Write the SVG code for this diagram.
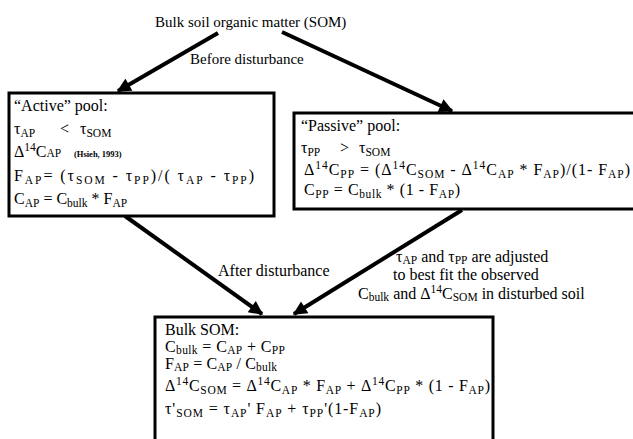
<svg xmlns="http://www.w3.org/2000/svg" width="633" height="439" viewBox="0 0 633 439">
<style>
.t{font-family:"Liberation Serif","Times New Roman",serif;font-size:15px;fill:#000}
.m{font-family:"Liberation Serif","Times New Roman",serif;font-size:16px;fill:#000}
.s{font-size:11.5px}
.b{font-family:"Liberation Serif","Times New Roman",serif;font-size:8.5px;font-weight:bold}
.box{fill:#fff;stroke:#000;stroke-width:3}
.ln{stroke:#000;stroke-width:4;fill:none}
</style>
<defs>
<marker id="ah" viewBox="0 0 10 10" refX="9" refY="5" markerWidth="4" markerHeight="3.5" orient="auto" markerUnits="strokeWidth">
<path d="M0,0 L10,5 L0,10 z" fill="#000"/>
</marker>
</defs>
<rect width="633" height="439" fill="#fff"/>

<g id="connectors">
<line class="ln" x1="218" y1="33" x2="118" y2="91" marker-end="url(#ah)"/>
<line class="ln" x1="282" y1="32" x2="452" y2="111" marker-end="url(#ah)"/>
<line class="ln" x1="125" y1="216" x2="262" y2="314" marker-end="url(#ah)"/>
<line class="ln" x1="462" y1="210" x2="294" y2="314" marker-end="url(#ah)"/>
<text class="t" x="190" y="64">Before disturbance</text>
<text class="m" x="218" y="276">After disturbance</text>
<text class="m" x="396" y="262">τ<tspan class="s" dy="2">AP</tspan><tspan dy="-2"> and τ</tspan><tspan class="s" dy="2">PP</tspan><tspan dy="-2"> are adjusted</tspan></text>
<text class="m" x="393" y="280">to best fit the observed</text>
<text class="m" x="358" y="299">C<tspan class="s" dy="2">bulk</tspan><tspan dy="-2"> and Δ</tspan><tspan class="s" dy="-6">14</tspan><tspan dy="6">C</tspan><tspan class="s" dy="2">SOM</tspan><tspan dy="-2"> in disturbed soil</tspan></text>
</g>

<g id="title">
<text class="t" x="155" y="27">Bulk soil organic matter (SOM)</text>
</g>

<g id="active-pool">
<rect class="box" x="9" y="93" width="265" height="123"/>
<text class="m" x="14" y="111">“Active” pool:</text>
<text class="m" x="14" y="134">τ<tspan class="s" dy="3">AP</tspan><tspan dy="-3" x="60">&lt;</tspan><tspan x="80">τ</tspan><tspan class="s" dy="3">SOM</tspan></text>
<text class="m" x="14" y="157">Δ<tspan class="s" dy="-6">14</tspan><tspan dy="6">C</tspan><tspan class="s">AP</tspan><tspan class="b" x="74">(Hsieh, 1993)</tspan></text>
<text class="m" x="14" y="181" textLength="240" lengthAdjust="spacing">F<tspan class="s" dy="3">AP</tspan><tspan dy="-3">= (τ</tspan><tspan class="s" dy="3">SOM</tspan><tspan dy="-3"> - τ</tspan><tspan class="s" dy="3">PP</tspan><tspan dy="-3">)/( τ</tspan><tspan class="s" dy="3">AP</tspan><tspan dy="-3"> - τ</tspan><tspan class="s" dy="3">PP</tspan><tspan dy="-3">)</tspan></text>
<text class="m" x="14" y="204">C<tspan class="s" dy="3">AP</tspan><tspan dy="-3"> = C</tspan><tspan class="s" dy="3">bulk</tspan><tspan dy="-3"> * F</tspan><tspan class="s" dy="3">AP</tspan></text>
</g>

<g id="passive-pool">
<rect class="box" x="294" y="113" width="346" height="96"/>
<text class="m" x="301" y="131">“Passive” pool:</text>
<text class="m" x="301" y="153">τ<tspan class="s" dy="3">PP</tspan><tspan dy="-3" x="340">&gt;</tspan><tspan x="359">τ</tspan><tspan class="s" dy="3">SOM</tspan></text>
<text class="m" x="304" y="175" textLength="326" lengthAdjust="spacing">Δ<tspan class="s" dy="-6">14</tspan><tspan dy="6">C</tspan><tspan class="s" dy="3">PP</tspan><tspan dy="-3"> = (Δ</tspan><tspan class="s" dy="-6">14</tspan><tspan dy="6">C</tspan><tspan class="s" dy="3">SOM</tspan><tspan dy="-3">  - Δ</tspan><tspan class="s" dy="-6">14</tspan><tspan dy="6">C</tspan><tspan class="s" dy="3">AP</tspan><tspan dy="-3"> * F</tspan><tspan class="s" dy="3">AP</tspan><tspan dy="-3">)/(1- F</tspan><tspan class="s" dy="3">AP</tspan><tspan dy="-3">)</tspan></text>
<text class="m" x="304" y="195" textLength="156" lengthAdjust="spacing">C<tspan class="s" dy="3">PP</tspan><tspan dy="-3"> = C</tspan><tspan class="s" dy="3">bulk</tspan><tspan dy="-3"> * (1 - F</tspan><tspan class="s" dy="3">AP</tspan><tspan dy="-3">)</tspan></text>
</g>

<g id="bulk-som">
<rect class="box" x="155" y="317" width="338" height="130"/>
<text class="m" x="165" y="335">Bulk SOM:</text>
<text class="m" x="165" y="352" textLength="120" lengthAdjust="spacing">C<tspan class="s" dy="2">bulk</tspan><tspan dy="-2"> = C</tspan><tspan class="s" dy="2">AP</tspan><tspan dy="-2"> + C</tspan><tspan class="s" dy="2">PP</tspan></text>
<text class="m" x="165" y="369" textLength="112" lengthAdjust="spacing">F<tspan class="s" dy="2">AP</tspan><tspan dy="-2"> = C</tspan><tspan class="s" dy="2">AP</tspan><tspan dy="-2"> / C</tspan><tspan class="s" dy="2">bulk</tspan></text>
<text class="m" x="165" y="391" textLength="325" lengthAdjust="spacing">Δ<tspan class="s" dy="-6">14</tspan><tspan dy="6">C</tspan><tspan class="s" dy="3">SOM</tspan><tspan dy="-3"> = Δ</tspan><tspan class="s" dy="-6">14</tspan><tspan dy="6">C</tspan><tspan class="s" dy="3">AP</tspan><tspan dy="-3"> * F</tspan><tspan class="s" dy="3">AP</tspan><tspan dy="-3"> + Δ</tspan><tspan class="s" dy="-6">14</tspan><tspan dy="6">C</tspan><tspan class="s" dy="3">PP</tspan><tspan dy="-3"> * (1 - F</tspan><tspan class="s" dy="3">AP</tspan><tspan dy="-3">)</tspan></text>
<text class="m" x="165" y="414" textLength="216" lengthAdjust="spacing">τ'<tspan class="s" dy="3">SOM</tspan><tspan dy="-3"> = τ</tspan><tspan class="s" dy="3">AP</tspan><tspan dy="-3">' F</tspan><tspan class="s" dy="3">AP</tspan><tspan dy="-3"> +  τ</tspan><tspan class="s" dy="3">PP</tspan><tspan dy="-3">'(1-F</tspan><tspan class="s" dy="3">AP</tspan><tspan dy="-3">)</tspan></text>
</g>
</svg>
